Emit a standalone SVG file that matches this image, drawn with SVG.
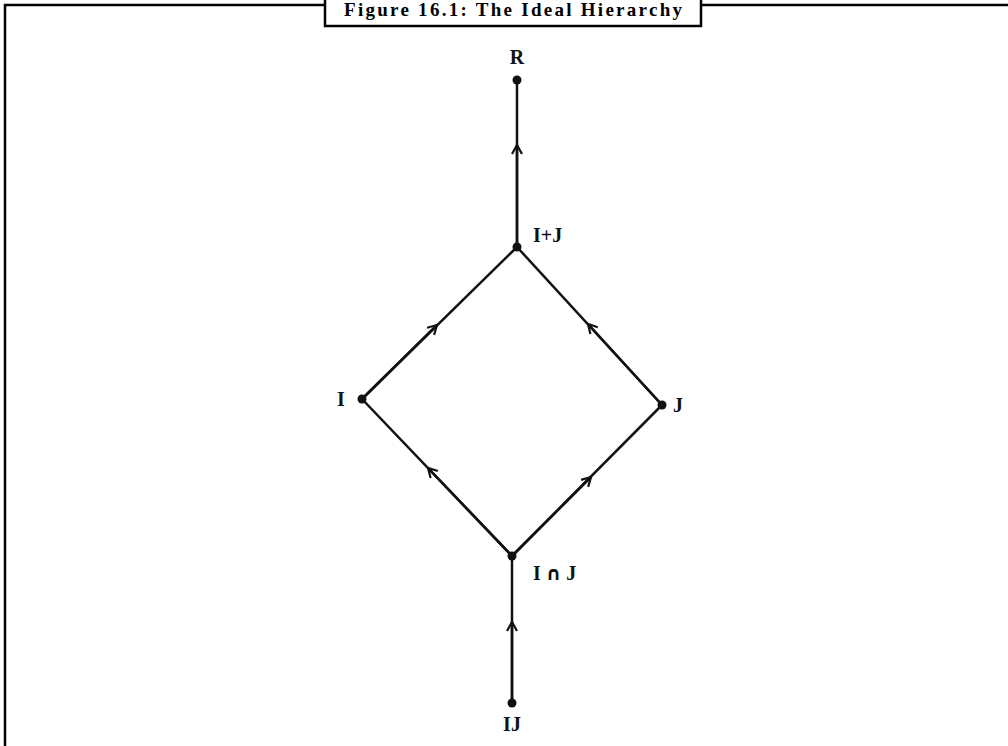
<svg xmlns="http://www.w3.org/2000/svg" width="1008" height="746" viewBox="0 0 1008 746">
<defs>
<style>
.frame{fill:none;stroke:#000;stroke-width:2.5}
.edge{fill:none;stroke:#111;stroke-width:2.5}
.dot{fill:#111}
.lbl{font-family:"Liberation Serif","DejaVu Serif",serif;font-weight:bold;font-size:20px;fill:#111}
.cap{font-family:"DejaVu Sans",sans-serif;font-weight:bold;font-size:19px}
.title{font-family:"Liberation Serif","DejaVu Serif",serif;font-weight:bold;font-size:19px;fill:#000}
</style>
<marker id="chev" viewBox="0 0 12 12" refX="10" refY="6" markerWidth="12" markerHeight="12" markerUnits="userSpaceOnUse" orient="auto">
<path d="M1,1 L10,6 L1,11" fill="none" stroke="#111" stroke-width="2.2"/>
</marker>
</defs>
<rect width="1008" height="746" fill="#fff"/>
<g id="frame">
<path class="frame" d="M5,746 V5 H325 M701,5 H1008"/>
<rect class="frame" x="325" y="-5" width="376" height="31"/>
<text class="title" x="513" y="16" text-anchor="middle" textLength="338" lengthAdjust="spacing">Figure 16.1: The Ideal Hierarchy</text>
</g>
<g id="connectors">
<line class="edge" x1="517" y1="247" x2="517" y2="80"/>
<line class="edge" x1="517" y1="247" x2="517" y2="145" marker-end="url(#chev)"/>
<line class="edge" x1="362" y1="399" x2="517" y2="247"/>
<line class="edge" x1="362" y1="399" x2="437" y2="325" marker-end="url(#chev)"/>
<line class="edge" x1="662" y1="405" x2="517" y2="247"/>
<line class="edge" x1="662" y1="405" x2="588" y2="324" marker-end="url(#chev)"/>
<line class="edge" x1="512" y1="556" x2="362" y2="399"/>
<line class="edge" x1="512" y1="556" x2="428" y2="468" marker-end="url(#chev)"/>
<line class="edge" x1="512" y1="556" x2="662" y2="405"/>
<line class="edge" x1="512" y1="556" x2="591" y2="477" marker-end="url(#chev)"/>
<line class="edge" x1="512" y1="703" x2="512" y2="556"/>
<line class="edge" x1="512" y1="703" x2="512" y2="622" marker-end="url(#chev)"/>
</g>
<g id="node-R">
<circle class="dot" cx="517" cy="80" r="4.5"/>
<text class="lbl" x="517" y="64" text-anchor="middle">R</text>
</g>
<g id="node-IplusJ">
<circle class="dot" cx="517" cy="247" r="4.5"/>
<text class="lbl" x="533" y="242">I+J</text>
</g>
<g id="node-I">
<circle class="dot" cx="362" cy="399" r="4.5"/>
<text class="lbl" x="337" y="406">I</text>
</g>
<g id="node-J">
<circle class="dot" cx="662" cy="405" r="4.5"/>
<text class="lbl" x="673" y="412">J</text>
</g>
<g id="node-IcapJ">
<circle class="dot" cx="512" cy="556" r="4.5"/>
<text class="lbl" x="533" y="580">I <tspan class="cap">∩</tspan> J</text>
</g>
<g id="node-IJ">
<circle class="dot" cx="512" cy="703" r="4.5"/>
<text class="lbl" x="512" y="731" text-anchor="middle">IJ</text>
</g>
</svg>
